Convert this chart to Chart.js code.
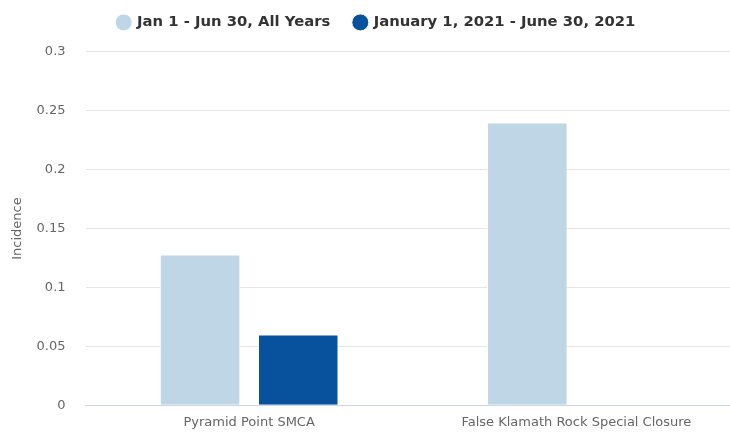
<!DOCTYPE html>
<html>
<head>
<meta charset="utf-8">
<script src="https://cdn.jsdelivr.net/npm/chart.js@4"></script>
<style>
  html, body { margin: 0; background: #fff; overflow: hidden; }
  .wrap { width: 740px; height: 433px; }
</style>
</head>
<body>
<div class="wrap"><canvas class="incidence-chart"></canvas></div>
<script>
const categories = ['Pyramid Point SMCA', 'False Klamath Rock Special Closure'];
const allYears = [0.128, 0.24];
const year2021 = [0.06, null];
const seriesNames = ['Jan 1 - Jun 30, All Years', 'January 1, 2021 - June 30, 2021'];

const ctx = document.querySelector('.incidence-chart');

Chart.defaults.font.family = "'DejaVu Sans', sans-serif";
Chart.defaults.color = '#666666';

// push the plot down a bit below the legend
const legendGap = {
    id: 'legendGap',
    beforeInit(chart) {
        const fit = chart.legend.fit;
        chart.legend.fit = function () {
            fit.bind(chart.legend)();
            this.height += 12;
        };
    }
};

new Chart(ctx, {
    type: 'bar',
    data: {
        labels: categories,
        datasets: [{
            label: seriesNames[0],
            data: allYears,
            backgroundColor: '#bfd6e6',
            borderColor: '#ffffff',
            borderWidth: 1,
            categoryPercentage: 0.6,
            barPercentage: 0.82
        },
        {
            label: seriesNames[1],
            data: year2021,
            backgroundColor: '#08519c',
            borderColor: '#ffffff',
            borderWidth: 1,
            categoryPercentage: 0.6,
            barPercentage: 0.82
        }]
    },
    options: {
        responsive: true,
        maintainAspectRatio: false,
        animation: false,
        layout: {
            padding: { left: 13, right: 0, top: -9, bottom: -11 }
        },
        scales: {
            x: {
                grid: { display: false, drawTicks: false },
                border: { display: true, color: '#ccd6eb' },
                ticks: { color: '#666666', font: { size: 13 }, padding: 10 }
            },
            y: {
                min: 0,
                max: 0.3,
                ticks: {
                    stepSize: 0.05,
                    color: '#666666',
                    font: { size: 13 },
                    padding: 20,
                    callback: v => String(Math.round(v * 100) / 100)
                },
                grid: { color: '#e6e6e6', drawTicks: false },
                border: { display: false },
                title: {
                    display: true,
                    text: 'Incidence',
                    color: '#666666',
                    font: { size: 13 },
                    padding: { top: -3, bottom: -9 }
                }
            }
        },
        plugins: {
            legend: {
                labels: {
                    usePointStyle: true,
                    pointStyle: 'circle',
                    boxWidth: 12,
                    boxHeight: 12,
                    padding: 24,
                    color: '#333333',
                    font: { size: 14.8, weight: 'bold' }
                }
            },
            tooltip: { enabled: false }
        }
    },
    plugins: [legendGap]
});
</script>
</body>
</html>
